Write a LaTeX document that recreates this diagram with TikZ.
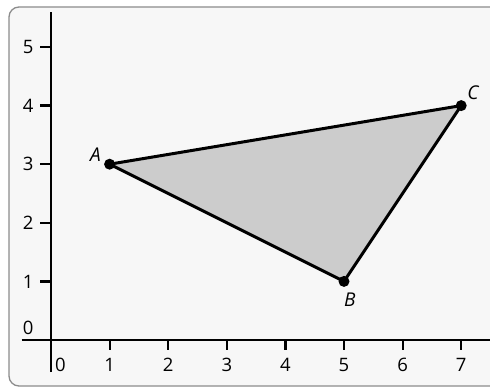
\documentclass[tikz,border=0pt]{standalone}
\usepackage{fontspec}
\setmainfont{Open Sans}
\begin{document}
\begin{tikzpicture}[x=1pt,y=-1pt,
  lbl/.style={font=\fontsize{18.5}{22}\selectfont, inner sep=0pt},
  ptlbl/.style={font=\fontsize{19}{23}\selectfont\itshape, inner sep=0pt},
  axisline/.style={line width=2.2pt, black},
  tickline/.style={line width=2.2pt, black},
  edge/.style={line width=3pt, black, line join=round},
  dot/.style={circle, fill=black, inner sep=0pt, minimum size=11pt}]
\useasboundingbox (0,0) rectangle (490,390);
\fill[white] (0,0) rectangle (490,390);
\draw[rounded corners=10pt, fill=black!3, draw=black!45, line width=1.3pt] (9,7) rectangle (500,386);
\begin{scope}[shift={(51,340)}, x=58.6pt, y=58.6pt]
  % triangle
  \coordinate (a) at (1,3);
  \coordinate (b) at (5,1);
  \coordinate (c) at (7,4);
  \fill[black!20] (a) -- (b) -- (c) -- cycle;
  \draw[edge] (a) -- (b) -- (c) -- cycle;
  % axes
  \coordinate (xs) at (-0.5,0);
  \coordinate (xe) at (7.6,0);
  \coordinate (ys) at (0,-0.55);
  \coordinate (ye) at (0,5.6);
  \draw[axisline] (xs) -- (xe);
  \draw[axisline] (ys) -- (ye);
  \foreach \i in {1,...,7} {
    \draw[tickline] (\i,0) -- ++(0,-10pt);
    \node[lbl] (x\i) at (\i,-0.43) {\i};
  }
  \node[lbl] (x0) at (0.16,-0.43) {0};
  \foreach \i in {1,...,5} {
    \draw[tickline] (0,\i) -- ++(-11pt,0);
    \node[lbl] (y\i) at (-0.39,\i) {\i};
  }
  \node[lbl] (y0) at (-0.39,0.2) {0};
  \node[dot] (A) at (a) {};
  \node[dot] (B) at (b) {};
  \node[dot] (C) at (c) {};
  \node[ptlbl] (lA) at (0.76,3.17) {A};
  \node[ptlbl] (lB) at (5.1,0.68) {B};
  \node[ptlbl] (lC) at (7.2,4.22) {C};
\end{scope}
\end{tikzpicture}
\end{document}
